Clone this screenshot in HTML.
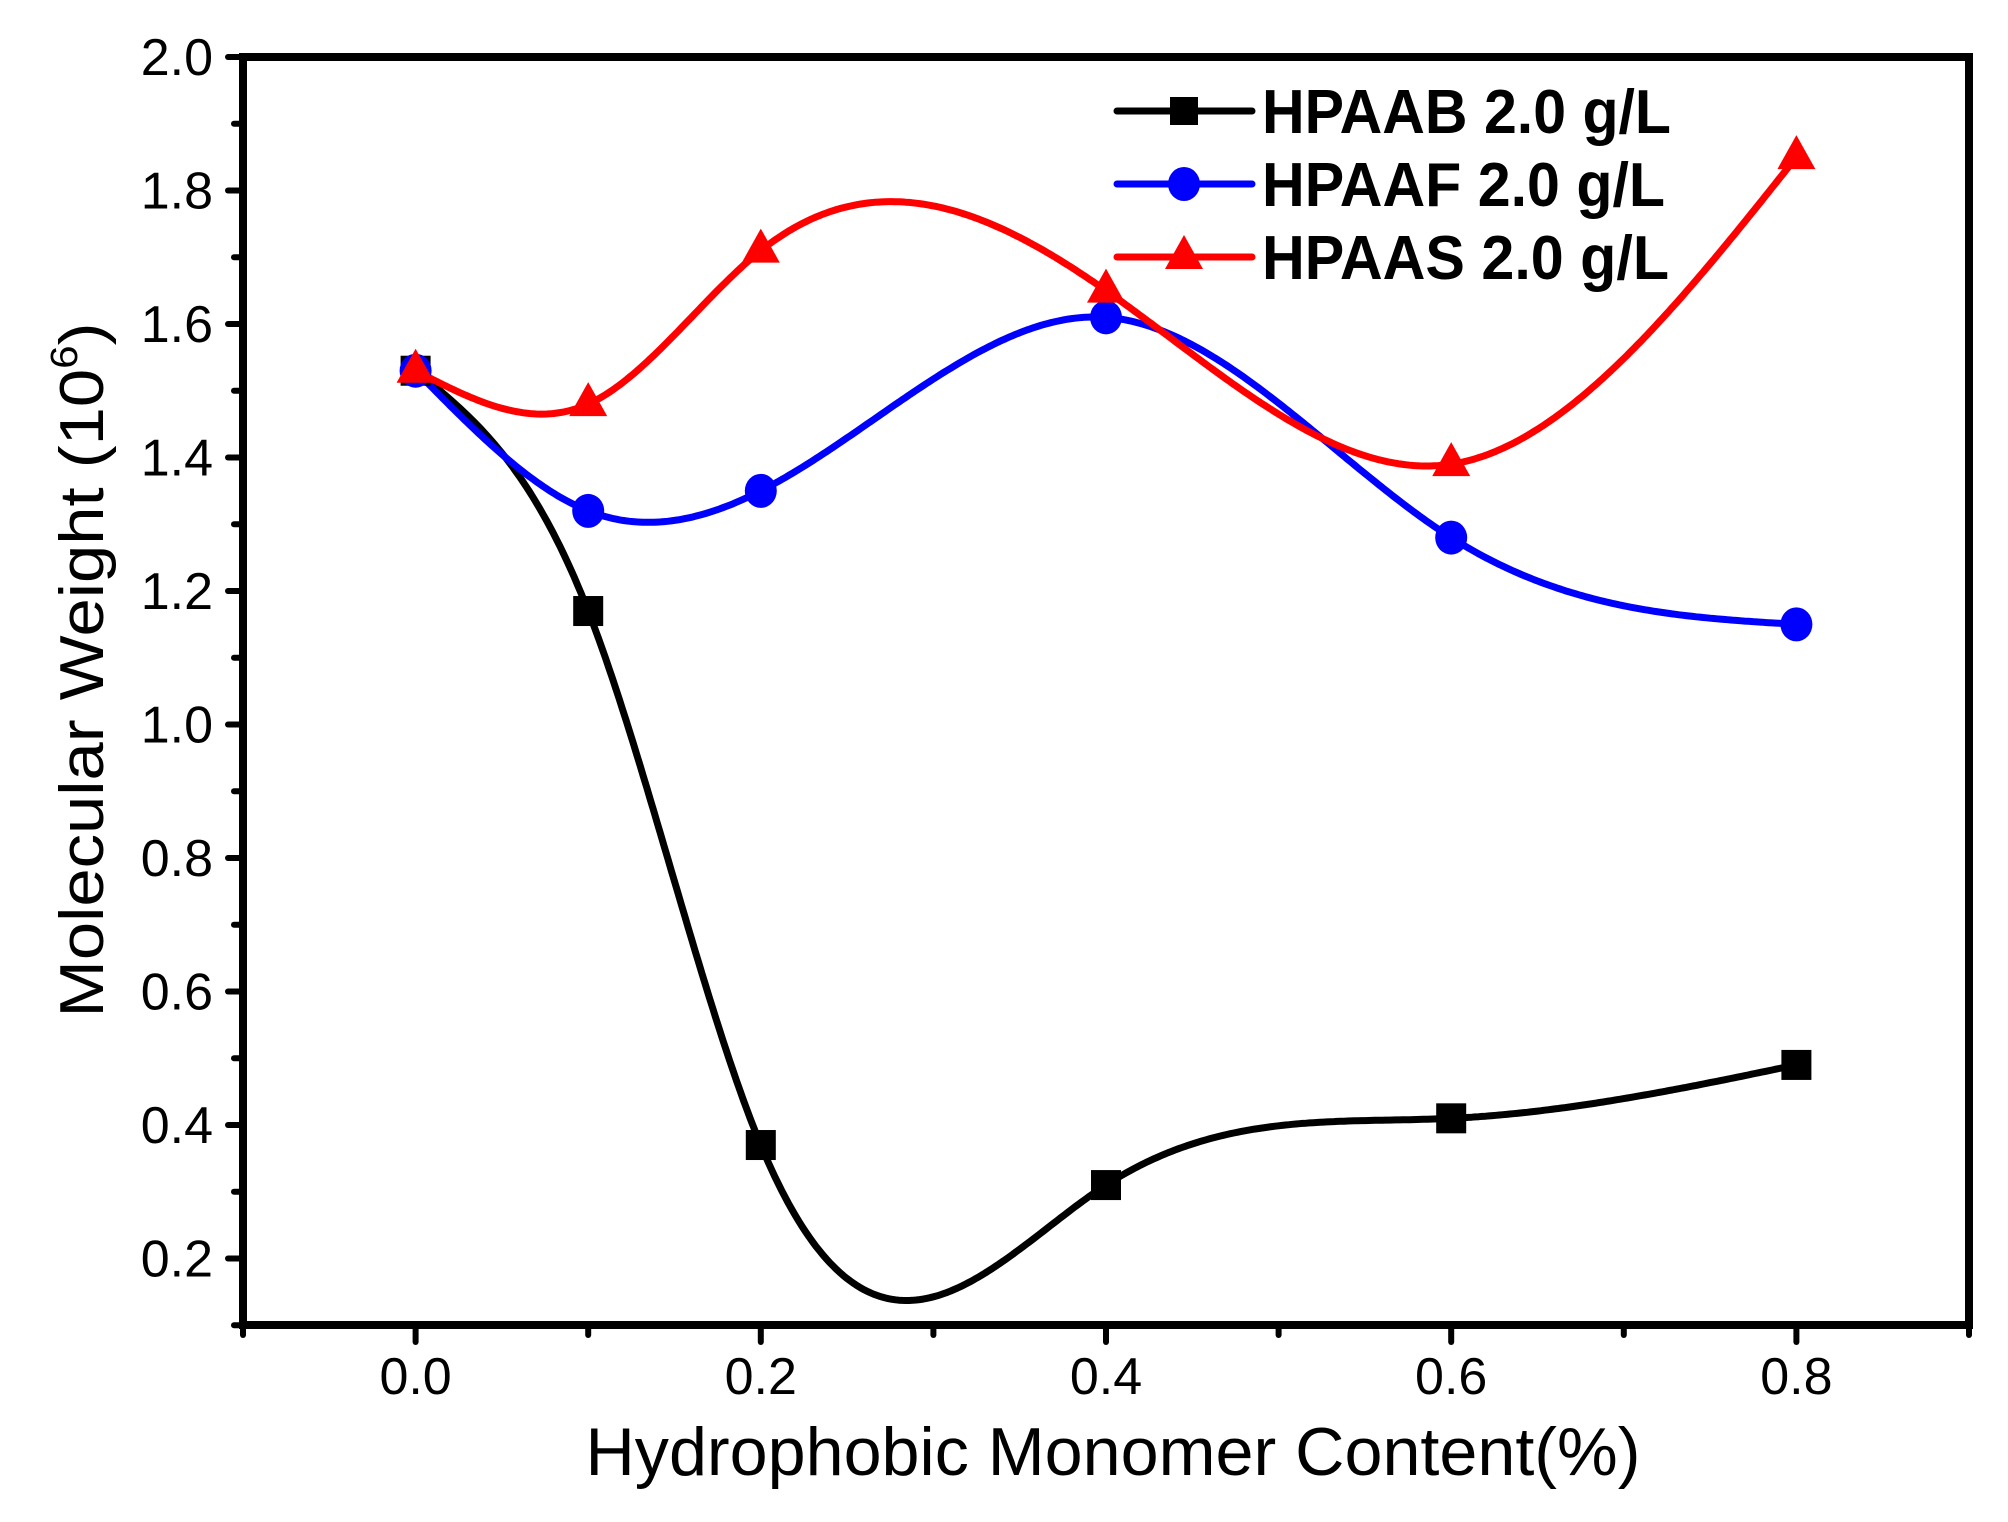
<!DOCTYPE html>
<html><head><meta charset="utf-8"><style>
html,body{margin:0;padding:0;background:#fff;}
svg{display:block;}
text{font-family:"Liberation Sans",Arial,sans-serif;}
</style></head><body>
<svg id="s" width="2008" height="1522" viewBox="0 0 2008 1522" xmlns="http://www.w3.org/2000/svg">
<g id="curves" fill="none" stroke-width="7" stroke-linejoin="round" stroke-linecap="round"></g>
<g id="marks"></g>
<rect x="243" y="57" width="1726" height="1268" fill="none" stroke="#000" stroke-width="8"/>
<g id="ticks" stroke="#000" stroke-width="6" stroke-linecap="round"></g>
<g id="labels" font-size="52" fill="#000"></g>
<text x="1113" y="1475" font-size="68" text-anchor="middle" textLength="1055" lengthAdjust="spacingAndGlyphs">Hydrophobic Monomer Content(%)</text>
<text transform="translate(103,670) rotate(-90)" font-size="62" text-anchor="middle" textLength="695" lengthAdjust="spacingAndGlyphs">Molecular Weight (10<tspan font-size="38" dy="-26">6</tspan><tspan dy="26">)</tspan></text>
<g stroke-width="7" stroke-linecap="round">
<line x1="1117" y1="111" x2="1252" y2="111" stroke="#000"/>
<rect x="1170" y="97" width="28" height="28" fill="#000"/>
<line x1="1117" y1="184" x2="1252" y2="184" stroke="#00f"/>
<ellipse cx="1184" cy="184" rx="16" ry="17" fill="#00f"/>
<line x1="1117" y1="257" x2="1252" y2="257" stroke="#f00"/>
<polygon points="1184,235 1165,269 1203,269" fill="#f00"/>
</g>
<g font-size="62" font-weight="bold" fill="#000">
<text x="1262" y="133" textLength="409" lengthAdjust="spacingAndGlyphs">HPAAB 2.0 g/L</text>
<text x="1262" y="206" textLength="403" lengthAdjust="spacingAndGlyphs">HPAAF 2.0 g/L</text>
<text x="1262" y="279" textLength="407" lengthAdjust="spacingAndGlyphs">HPAAS 2.0 g/L</text>
</g>
</svg>
<script>
var NS="http://www.w3.org/2000/svg";
function X(v){return 243+(v+0.1)*1726;}
function Y(v){return 57+(2-v)*667.5;}
function el(t,a,p){var e=document.createElementNS(NS,t);for(var k in a)e.setAttribute(k,a[k]);p.appendChild(e);return e;}
var xs=[0,0.1,0.2,0.4,0.6,0.8];
var series=[
 {c:"#000",m:"sq",y:[1.53,1.17,0.37,0.31,0.41,0.49]},
 {c:"#00f",m:"ci",y:[1.53,1.32,1.35,1.61,1.28,1.15]},
 {c:"#f00",m:"tr",y:[1.53,1.48,1.71,1.65,1.39,1.85]}];
function spline(x,y){var n=x.length,h=[],a=[],l=[1],mu=[0],z=[0],c=new Array(n).fill(0),b=[],d=[];
for(var i=0;i<n-1;i++)h[i]=x[i+1]-x[i];
for(i=1;i<n-1;i++)a[i]=3/h[i]*(y[i+1]-y[i])-3/h[i-1]*(y[i]-y[i-1]);
for(i=1;i<n-1;i++){l[i]=2*(x[i+1]-x[i-1])-h[i-1]*mu[i-1];mu[i]=h[i]/l[i];z[i]=(a[i]-h[i-1]*z[i-1])/l[i];}
l[n-1]=1;z[n-1]=0;c[n-1]=0;
for(var j=n-2;j>=0;j--){c[j]=z[j]-mu[j]*c[j+1];b[j]=(y[j+1]-y[j])/h[j]-h[j]*(c[j+1]+2*c[j])/3;d[j]=(c[j+1]-c[j])/(3*h[j]);}
return function(t){var k=0;while(k<n-2&&t>x[k+1])k++;var dx=t-x[k];return y[k]+b[k]*dx+c[k]*dx*dx+d[k]*dx*dx*dx;};}
var cg=document.getElementById("curves"),mg=document.getElementById("marks");
series.forEach(function(s){var f=spline(xs,s.y),p="";
 for(var i=0;i<=400;i++){var t=0.8*i/400;p+=(i?"L":"M")+X(t).toFixed(1)+","+Y(f(t)).toFixed(1);}
 el("path",{d:p,stroke:s.c},cg);
 xs.forEach(function(xv,i){var cx=X(xv),cy=Y(s.y[i]);
  if(s.m=="sq")el("rect",{x:cx-15,y:cy-15,width:30,height:30,fill:s.c},mg);
  else if(s.m=="ci")el("ellipse",{cx:cx,cy:cy,rx:16,ry:17,fill:s.c},mg);
  else el("polygon",{points:cx+","+(cy-22)+" "+(cx-19)+","+(cy+12)+" "+(cx+19)+","+(cy+12),fill:s.c},mg);});
});
var tg=document.getElementById("ticks"),lg=document.getElementById("labels");
for(var i=0;i<=10;i++){var v=-0.1+i*0.1,x=X(v),maj=(i%2==1);
 el("line",{x1:x,y1:1329,x2:x,y2:maj?1342:1335},tg);
 if(maj){var t=el("text",{x:x,y:1394,"text-anchor":"middle"},lg);t.textContent=v.toFixed(1);}}
for(i=0;i<=19;i++){var v2=0.1+i*0.1,y=Y(v2),maj2=(i%2==1);
 el("line",{x1:239,y1:y,x2:maj2?228:234,y2:y},tg);
 if(maj2){var t2=el("text",{x:213,y:y+18,"text-anchor":"end"},lg);t2.textContent=v2.toFixed(1);}}
</script>
</body></html>
